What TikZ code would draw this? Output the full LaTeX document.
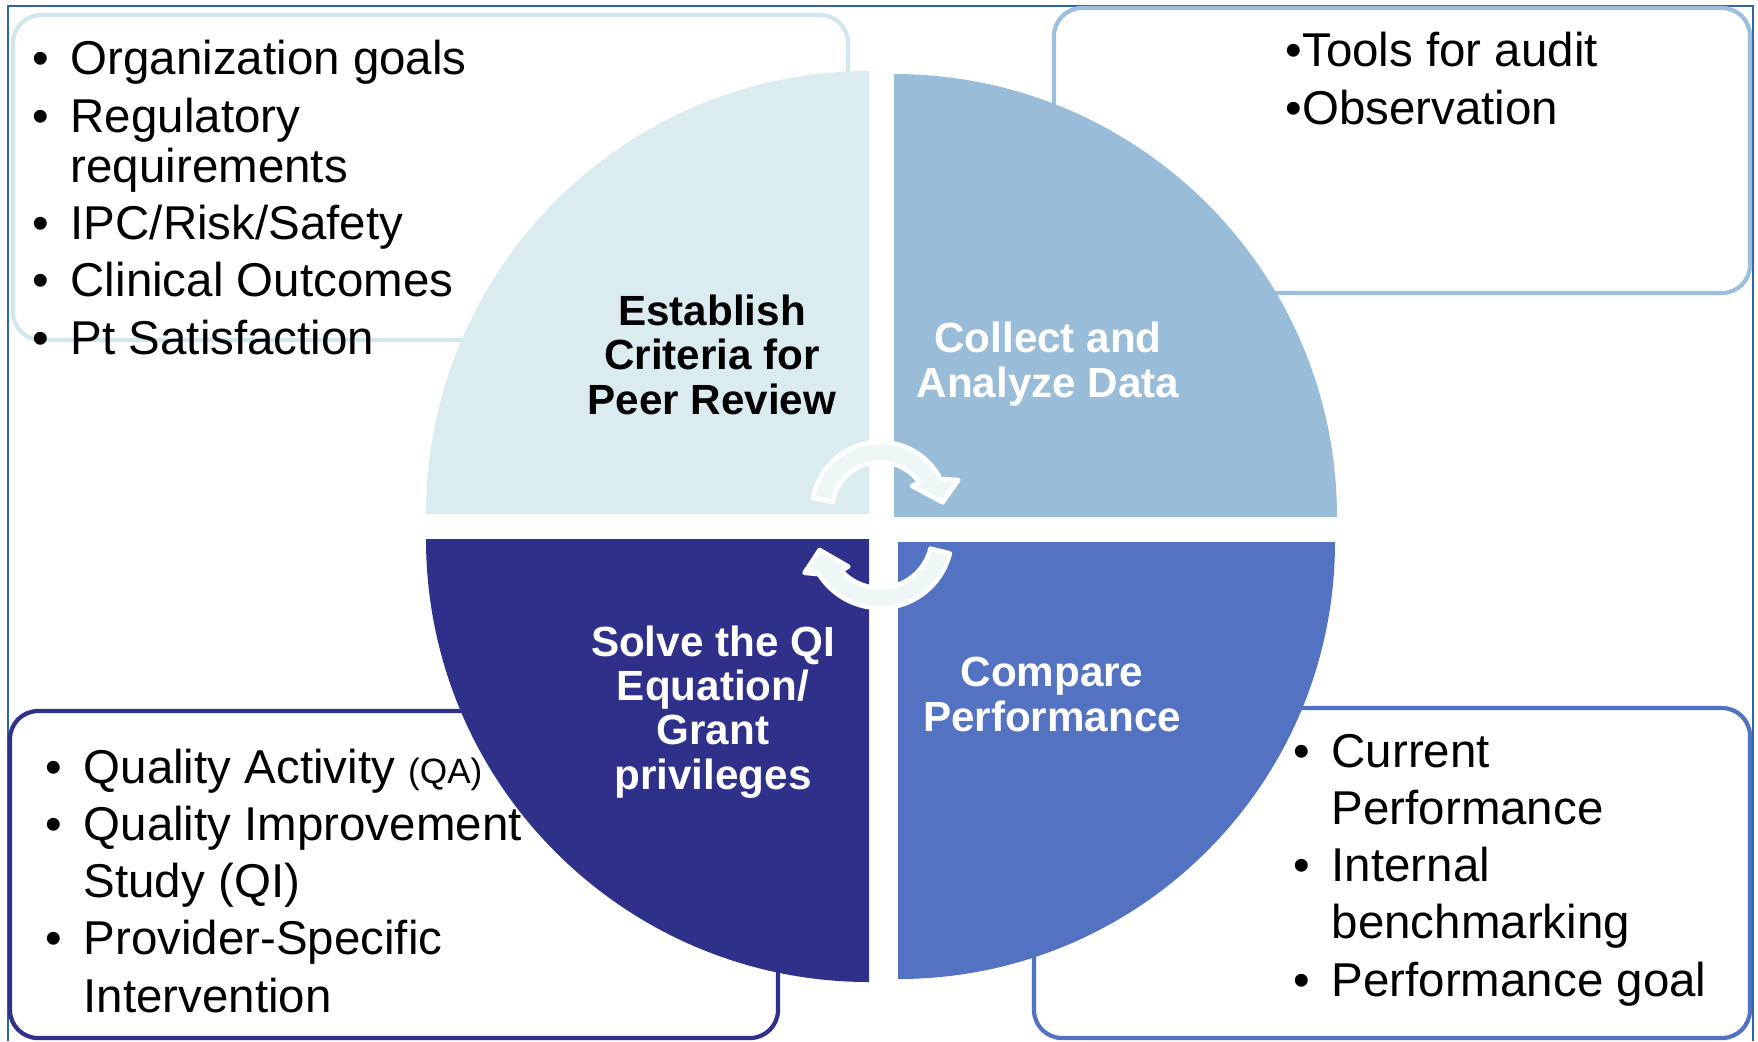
\documentclass[tikz,border=0pt]{standalone}
\usepackage{fontspec}
\setmainfont{Liberation Sans}

\definecolor{critfill}{HTML}{DAECEF}
\definecolor{critline}{HTML}{D2E7EB}
\definecolor{datafill}{HTML}{99BDD8}
\definecolor{dataline}{HTML}{9CC0DC}
\definecolor{qifill}{HTML}{2E3089}
\definecolor{perffill}{HTML}{5373C2}
\definecolor{frameblue}{HTML}{2F64A8}
\definecolor{cyclefill}{HTML}{EEF6F8}

\newcommand{\bul}{\makebox[3.8mm][l]{\textbullet}}
\newcommand{\ind}{\hspace*{3.8mm}}

\begin{document}
\begin{tikzpicture}[x=0.01cm,y=-0.01cm,
    callout/.style={line width=1.2pt,rounded corners=2.8mm},
    bullets/.style={anchor=base west,inner sep=0pt,align=left,
      font=\fontsize{13.5}{16.25}\selectfont},
    quarter/.style={anchor=base,inner sep=0pt,align=center,
      font=\fontsize{12}{12.6}\selectfont\bfseries},
    turnarrow/.style={fill=cyclefill,draw=white,line width=1.3pt,line join=round}]
  \useasboundingbox (0,0) rectangle (1758,1041);

  % outer frame, open at the bottom
  \draw[frameblue,line width=0.8pt] (8,1041) -- (8,6) -- (1753,6) -- (1753,1041);

  % the four callouts behind the wheel
  \draw[callout,critline] (13,15) rectangle (848,340);
  \draw[callout,dataline] (1054,8) rectangle (1750,293);
  \draw[callout,qifill] (10,711) rectangle (778,1038);
  \draw[callout,perffill] (1034,708) rectangle (1750,1038);

  % wheel quarters
  \fill[critfill] (869,514) -- ++(180:443) arc[start angle=180,end angle=270,radius=443] -- cycle;
  \fill[datafill] (894,517) -- ++(270:443) arc[start angle=270,end angle=360,radius=443] -- cycle;
  \fill[perffill] (898,542) -- ++(0:437) arc[start angle=0,end angle=90,radius=437] -- cycle;
  \fill[qifill] (869,539) -- ++(90:443) arc[start angle=90,end angle=180,radius=443] -- cycle;

  % turning arrows in the middle
  \begin{scope}[shift={(880,510)}]
    \draw[turnarrow] (190:68) arc[start angle=190,end angle=333,radius=68]
      -- (339:84) -- (353:63) -- (323:40) -- (325:48)
      arc[start angle=325,end angle=190,radius=48] -- cycle;
  \end{scope}
  \begin{scope}[shift={(880,536)}]
    \draw[turnarrow] (14:72) arc[start angle=14,end angle=148,radius=72]
      -- (154:84) -- (167:62) -- (136:44) -- (138:52)
      arc[start angle=138,end angle=14,radius=52] -- cycle;
  \end{scope}

  % stage names (placed on their last baseline)
  \node[quarter] (crit) at (712,414) {Establish\\Criteria for\\Peer Review};
  \node[quarter,white] (data) at (1048,397) {Collect and\\Analyze Data};
  \node[quarter,white] (perf) at (1052,731) {Compare\\Performance};
  \node[quarter,white] (qi) at (713,789) {Solve the QI\\Equation/\\Grant\\privileges};

  % callout texts
  \node[bullets,font=\fontsize{13.5}{14.2}\selectfont] (critlist) at (32,354)
    {\bul Organization goals\\[2.1pt]
     \bul Regulatory\\
     \ind requirements\\[2.1pt]
     \bul IPC/Risk/Safety\\[2.1pt]
     \bul Clinical Outcomes\\[2.1pt]
     \bul Pt Satisfaction};
  \node[bullets,font=\fontsize{13.5}{16.4}\selectfont] (datalist) at (1285,124)
    {\textbullet Tools for audit\\
     \textbullet Observation};
  \node[bullets] (qilist) at (45,1012)
    {\bul Quality Activity {\fontsize{10}{12}\selectfont(QA)}\\
     \bul Quality Improvement\\
     \ind Study (QI)\\
     \bul Provider-Specific\\
     \ind Intervention};
  \node[bullets] (perflist) at (1293,996)
    {\bul Current\\
     \ind Performance\\
     \bul Internal\\
     \ind benchmarking\\
     \bul Performance goal};
\end{tikzpicture}
\end{document}
